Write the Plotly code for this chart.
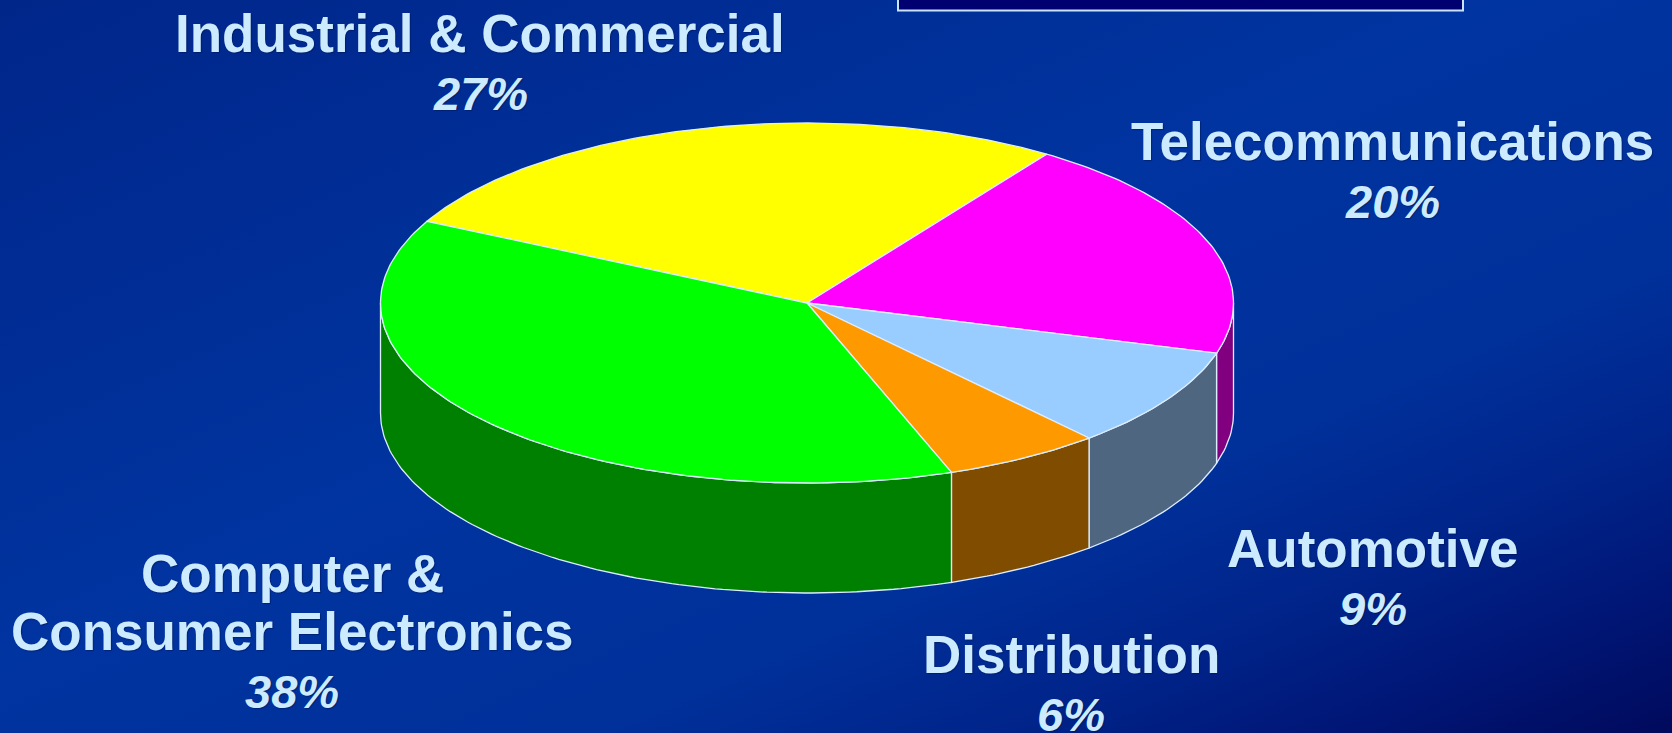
import base64
import numpy as np
import plotly.graph_objects as go

# ---- data -------------------------------------------------------------
categories = [
    "Industrial & Commercial",
    "Telecommunications",
    "Automotive",
    "Distribution",
    "Computer &\nConsumer Electronics",
]
shares = [27, 20, 9, 6, 38]
pct_labels = ["27%", "20%", "9%", "6%", "38%"]

# ---- styling ----------------------------------------------------------
top_colors = ["#FFFF00", "#FF00FF", "#99CCFF", "#FF9900", "#00FF00"]
side_colors = ["#808000", "#800080", "#4F6680", "#804C00", "#008000"]
edge_color = "#DCEEFF"
text_color = "#CCEBFF"
W, H = 1672, 733

# pie geometry (pixel space, y grows downward)
CX, CY = 807.0, 303.0
RX, RY = 426.5, 180.0
DEPTH = 110.0
START_DEG = 153.0  # first slice starts here and slices run clockwise

# label anchors: centre x and baseline of first line
label_anchor = {
    "Industrial & Commercial": (480, 51.5),
    "Telecommunications": (1392, 160),
    "Automotive": (1373, 566.5),
    "Distribution": (1071, 672.5),
    "Computer &\nConsumer Electronics": (292, 592),
}
LINE_STEP = 58
NAME_SIZE = 53
PCT_SIZE = 47


def ellipse_pts(a_from, a_to, depth=0.0, n_per_deg=1.0):
    n = max(2, int(abs(a_to - a_from) * n_per_deg) + 1)
    t = np.radians(np.linspace(a_from, a_to, n))
    return CX + RX * np.cos(t), CY - RY * np.sin(t) + depth


fig = go.Figure()

# slice angle ranges
total = float(sum(shares))
spans = [s / total * 360.0 for s in shares]
starts = START_DEG - np.concatenate([[0.0], np.cumsum(spans)[:-1]])
ends = starts - np.array(spans)

# visible side walls (front half of the cylinder: angles -180..0)
for a0, a1, col in zip(starts, ends, side_colors):
    for k in (-360.0, 0.0, 360.0):
        hi = min(a0 + k, 0.0)
        lo = max(a1 + k, -180.0)
        if hi > lo:
            tx, ty = ellipse_pts(hi, lo)
            bx, by = ellipse_pts(lo, hi, depth=DEPTH)
            xs = np.concatenate([tx, bx, tx[:1]])
            ys = np.concatenate([ty, by, ty[:1]])
            fig.add_trace(go.Scatter(
                x=xs, y=ys, mode="lines", fill="toself", fillcolor=col,
                line=dict(color=edge_color, width=1.3),
                hoverinfo="skip", showlegend=False,
            ))

# top faces
for a0, a1, col, name, s in zip(starts, ends, top_colors, categories, shares):
    ax, ay = ellipse_pts(a0, a1)
    xs = np.concatenate([[CX], ax, [CX]])
    ys = np.concatenate([[CY], ay, [CY]])
    fig.add_trace(go.Scatter(
        x=xs, y=ys, mode="lines", fill="toself", fillcolor=col,
        line=dict(color=edge_color, width=1.3),
        name=name.replace("\n", " "), text=f"{s}%",
        hoverinfo="name+text", showlegend=False,
    ))

# labels
shadow = "1px 1px 1px rgba(0,16,70,0.45)"
for name, pct in zip(categories, pct_labels):
    x0, base = label_anchor[name]
    lines = name.split("\n")
    for i, line in enumerate(lines):
        b = base + i * LINE_STEP
        fig.add_annotation(
            x=x0, y=b - 0.3465 * NAME_SIZE, xref="x", yref="y",
            text=line, showarrow=False, xanchor="center", yanchor="middle",
            font=dict(family="Liberation Sans, Arial, sans-serif", size=NAME_SIZE,
                      color=text_color, weight="bold", shadow=shadow),
        )
    b = base + len(lines) * LINE_STEP
    fig.add_annotation(
        x=x0, y=b - 0.3465 * PCT_SIZE, xref="x", yref="y",
        text=pct, showarrow=False, xanchor="center", yanchor="middle",
        font=dict(family="Liberation Sans, Arial, sans-serif", size=PCT_SIZE,
                  color=text_color, weight="bold", style="italic", shadow=shadow),
    )

# title box peeking in at the top edge
fig.add_shape(type="rect", xref="x", yref="y", x0=898, x1=1463, y0=-40, y1=10.5,
              fillcolor="#000070", line=dict(color="#C8E4FF", width=2), layer="above")

# diagonal background gradient
svg = (
    f'<svg xmlns="http://www.w3.org/2000/svg" width="{W}" height="{H}" '
    f'viewBox="0 0 {W} {H}" preserveAspectRatio="none">'
    '<defs><linearGradient id="g" x1="0" y1="0" x2="1" y2="1">'
    '<stop offset="0" stop-color="#00268A"/>'
    '<stop offset="0.45" stop-color="#0034A0"/>'
    '<stop offset="0.68" stop-color="#00309A"/>'
    '<stop offset="0.8" stop-color="#00248A"/>'
    '<stop offset="0.9" stop-color="#001676"/>'
    '<stop offset="1" stop-color="#000A5C"/>'
    '</linearGradient></defs>'
    f'<rect x="0" y="0" width="{W}" height="{H}" fill="url(#g)"/></svg>'
)
bg_src = "data:image/svg+xml;base64," + base64.b64encode(svg.encode()).decode()

fig.update_layout(
    width=W, height=H,
    margin=dict(l=0, r=0, t=0, b=0),
    paper_bgcolor="#0030A0",
    plot_bgcolor="rgba(0,0,0,0)",
    images=[dict(source=bg_src, xref="paper", yref="paper", x=0, y=1,
                 sizex=1, sizey=1, xanchor="left", yanchor="top",
                 sizing="stretch", layer="below")],
    xaxis=dict(range=[0, W], visible=False, fixedrange=True),
    yaxis=dict(range=[H, 0], visible=False, fixedrange=True),
    showlegend=False,
)

fig.write_html("out.html", config={"displayModeBar": False})
